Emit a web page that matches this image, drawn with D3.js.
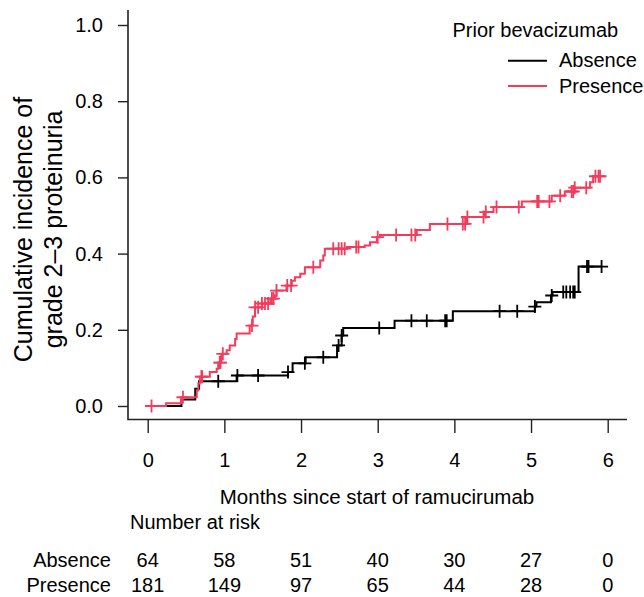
<!DOCTYPE html>
<html>
<head>
<meta charset="utf-8">
<script src="https://cdn.jsdelivr.net/npm/d3@7"></script>
<style>
  body { margin: 0; background: #fff; }
  svg text { font-family: "Liberation Sans", Arial, sans-serif; fill: #000; }
</style>
</head>
<body>
<svg id="chart" width="644" height="597"></svg>
<script>
// tick values
const xTicks = [0, 1, 2, 3, 4, 5, 6];
const yTicks = [0, 0.2, 0.4, 0.6, 0.8, 1.0];

// groups + colours
const groups = ['Absence', 'Presence'];
const groupColors = ['#000000', '#f43b5c'];

// Absence: step times / cumulative incidence / censor times
const absenceTime = [0, 0.44, 0.62, 0.67, 1.16, 1.83, 1.89, 2.06, 2.47, 2.53, 2.55, 3.22, 3.98, 5.05, 5.07, 5.26, 5.28, 5.62];
const absenceInc = [0, 0.017, 0.045, 0.065, 0.080, 0.089, 0.112, 0.128, 0.159, 0.185, 0.205, 0.224, 0.249, 0.261, 0.272, 0.290, 0.299, 0.366];
const absenceCensor = [0.92, 1.17, 1.44, 1.83, 2.05, 2.29, 2.49, 2.53, 3.02, 3.44, 3.64, 3.88, 3.90, 4.59, 4.82, 5.05, 5.27, 5.42, 5.46, 5.51, 5.55, 5.57, 5.73, 5.75, 5.92];

// Presence
const presenceTime = [0, 0.24, 0.44, 0.64, 0.66, 0.68, 0.81, 0.90, 0.92, 0.96, 1.03, 1.07, 1.14, 1.16, 1.33, 1.37, 1.40, 1.49, 1.60, 1.66, 1.68, 1.81, 1.88, 1.92, 1.99, 2.05, 2.25, 2.29, 2.31, 2.60, 2.83, 2.90, 2.99, 3.03, 3.51, 3.68, 4.16, 4.40, 4.51, 4.88, 5.27, 5.44, 5.57, 5.77, 5.81];
const presenceInc = [0, 0.007, 0.023, 0.041, 0.059, 0.077, 0.089, 0.098, 0.114, 0.137, 0.146, 0.159, 0.176, 0.190, 0.211, 0.235, 0.259, 0.269, 0.282, 0.290, 0.303, 0.316, 0.329, 0.338, 0.347, 0.364, 0.382, 0.395, 0.413, 0.417, 0.421, 0.430, 0.443, 0.449, 0.462, 0.478, 0.496, 0.509, 0.522, 0.537, 0.552, 0.563, 0.573, 0.587, 0.603];
const presenceCensor = [0.05, 0.46, 0.70, 0.71, 0.94, 0.95, 0.98, 1.36, 1.40, 1.44, 1.49, 1.53, 1.57, 1.62, 1.64, 1.68, 1.82, 1.87, 2.16, 2.42, 2.49, 2.53, 2.57, 2.72, 2.75, 3.00, 3.24, 3.44, 3.49, 3.91, 4.11, 4.14, 4.17, 4.38, 4.41, 4.55, 4.84, 5.08, 5.10, 5.24, 5.38, 5.53, 5.55, 5.57, 5.72, 5.84, 5.88, 5.90];

// number at risk
const riskAbsence = [64, 58, 51, 40, 30, 27, 0];
const riskPresence = [181, 149, 97, 65, 44, 28, 0];

const svg = d3.select('#chart');

const x = d3.scaleLinear().domain([0, 6]).range([147.7, 607.7]);
const y = d3.scaleLinear().domain([0, 1]).range([406, 25]);

/* frame (L shape) */
svg.append('path')
  .attr('d', 'M128,10V419.5H627')
  .attr('fill', 'none')
  .attr('stroke', '#222')
  .attr('stroke-width', 1.6);

/* Y axis */
const yAxis = svg.append('g')
  .attr('transform', 'translate(128,0)')
  .call(d3.axisLeft(y).tickValues(yTicks).tickSize(10).tickPadding(15).tickFormat(d3.format('.1f')));
yAxis.select('.domain').remove();
yAxis.selectAll('line').attr('stroke', '#222').attr('stroke-width', 1.4);
yAxis.selectAll('text').style('font-size', '20px').attr('fill', '#000');

/* X axis */
const xAxis = svg.append('g')
  .attr('transform', 'translate(0,420)')
  .call(d3.axisBottom(x).tickValues(xTicks).tickSize(13).tickPadding(20).tickFormat(d3.format('d')));
xAxis.select('.domain').remove();
xAxis.selectAll('line').attr('stroke', '#222').attr('stroke-width', 1.4);
xAxis.selectAll('text').style('font-size', '20px').attr('fill', '#000');

/* axis titles */
svg.append('text')
  .attr('x', 377).attr('y', 503.5)
  .attr('text-anchor', 'middle')
  .style('font-size', '20.5px')
  .text('Months since start of ramucirumab');

const yTitle = ['Cumulative incidence of', 'grade 2\u20133 proteinuria'];
yTitle.forEach((t, i) => {
  svg.append('text')
    .attr('transform', 'translate(' + (31.5 + i * 30) + ',229.5) rotate(-90)')
    .attr('text-anchor', 'middle')
    .style('font-size', '25px')
    .text(t);
});

/* curves */
const line = d3.line()
  .x(d => x(d[0]))
  .y(d => y(d[1]))
  .curve(d3.curveStepAfter);

function valueAt(times, inc, t) {
  let v = 0;
  times.forEach((tt, i) => { if (tt <= t) v = inc[i]; });
  return v;
}

const series = [
  { times: absenceTime, inc: absenceInc, censor: absenceCensor, color: groupColors[0] },
  { times: presenceTime, inc: presenceInc, censor: presenceCensor, color: groupColors[1] }
];

series.forEach(s => {
  const pts = s.times.map((t, i) => [t, s.inc[i]]);
  const tEnd = d3.max(s.censor);
  pts.push([tEnd, s.inc[s.inc.length - 1]]);

  svg.append('path')
    .datum(pts)
    .attr('d', line)
    .attr('fill', 'none')
    .attr('stroke', s.color)
    .attr('stroke-width', 2);

  svg.append('g')
    .selectAll('path')
    .data(s.censor)
    .enter()
    .append('path')
    .attr('d', d => {
      const cx = x(d), cy = y(valueAt(s.times, s.inc, d));
      return 'M' + (cx - 6.5) + ',' + cy + 'H' + (cx + 6.5) + 'M' + cx + ',' + (cy - 6.5) + 'V' + (cy + 6.5);
    })
    .attr('fill', 'none')
    .attr('stroke', s.color)
    .attr('stroke-width', 1.8);
});

/* legend */
const legend = svg.append('g');
legend.append('text')
  .attr('x', 452.5).attr('y', 36.5)
  .style('font-size', '20px')
  .text('Prior bevacizumab');
groups.forEach((g, i) => {
  const ly = 60.7 + i * 25.3;
  legend.append('line')
    .attr('x1', 508).attr('x2', 547)
    .attr('y1', ly).attr('y2', ly)
    .attr('stroke', groupColors[i])
    .attr('stroke-width', 2);
  legend.append('text')
    .attr('x', 559).attr('y', ly + 6.5)
    .style('font-size', '20px')
    .text(g);
});

/* number at risk */
svg.append('text')
  .attr('x', 130).attr('y', 528.5)
  .style('font-size', '20px')
  .text('Number at risk');

const riskRows = [riskAbsence, riskPresence];
riskRows.forEach((row, i) => {
  const by = 566.7 + i * 25;
  svg.append('text')
    .attr('x', 111).attr('y', by)
    .attr('text-anchor', 'end')
    .style('font-size', '20px')
    .text(groups[i]);
  svg.append('g')
    .selectAll('text')
    .data(row)
    .enter()
    .append('text')
    .attr('x', (d, j) => x(xTicks[j]))
    .attr('y', by)
    .attr('text-anchor', 'middle')
    .style('font-size', '20px')
    .text(d => d);
});
</script>
</body>
</html>
